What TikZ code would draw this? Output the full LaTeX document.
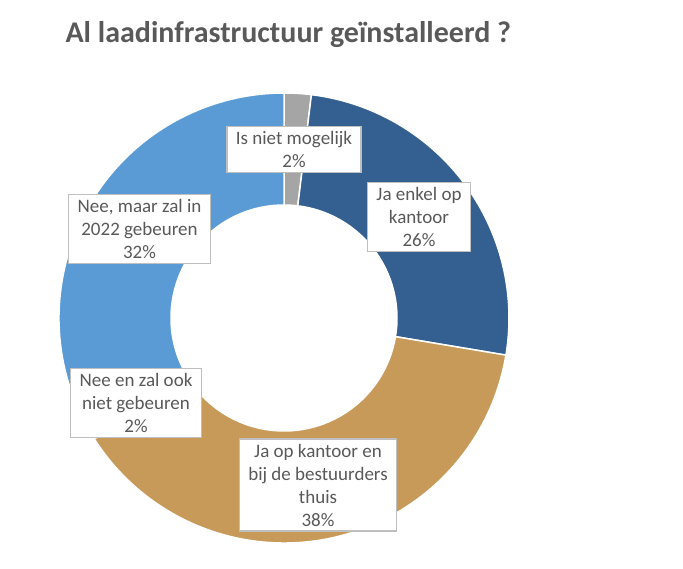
\documentclass[tikz,border=0pt]{standalone}
\usepackage{fontspec}
\setmainfont{Carlito}
\definecolor{segLight}{HTML}{5B9BD5}
\definecolor{segDark}{HTML}{335F91}
\definecolor{segTan}{HTML}{C89A5A}
\definecolor{segGray}{HTML}{A5A5A5}
\definecolor{segHidden}{HTML}{FFC000}
\definecolor{txtGray}{HTML}{595959}
\definecolor{boxGray}{HTML}{BFBFBF}
\begin{document}
\begin{tikzpicture}[x=1pt, y=1pt,
    seg/.style={draw=white, line width=1.5pt},
    lbl node/.style={draw=boxGray, line width=1.5pt, fill=white, align=center, text=txtGray,
        font=\fontsize{19}{23}\selectfont, inner xsep=9pt, inner ysep=5pt},
    title node/.style={anchor=base west, text=txtGray, font=\fontsize{30}{34}\selectfont\bfseries}]
\useasboundingbox (0,0) rectangle (683,568);
\node[title node] (title) at (62,525) {Al laadinfrastructuur geïnstalleerd ?};
% ring segments, clockwise from the top
\begin{scope}[shift={(284,250)}]
\foreach \a/\b/\c in {90/83/segGray, 83/-9.5/segDark, -9.5/-147.5/segTan, -147.5/-153.5/segHidden, -153.5/-270/segLight}
    \fill[seg, fill=\c] (\a:225pt) arc[start angle=\a, end angle=\b, radius=225pt]
        -- (\b:113pt) arc[start angle=\b, end angle=\a, radius=113pt] -- cycle;
\end{scope}
% data labels
\node[lbl node] (niet) at (294,418.5) {Is niet mogelijk\\2\%};
\node[lbl node] (kantoor) at (419,351) {Ja enkel op\\kantoor\\26\%};
\node[lbl node] (thuis) at (318,83) {Ja op kantoor en\\bij de bestuurders\\thuis\\38\%};
\node[lbl node] (nooit) at (136,165) {Nee en zal ook\\niet gebeuren\\2\%};
\node[lbl node] (later) at (139.5,339) {Nee, maar zal in\\2022 gebeuren\\32\%};
\end{tikzpicture}
\end{document}
